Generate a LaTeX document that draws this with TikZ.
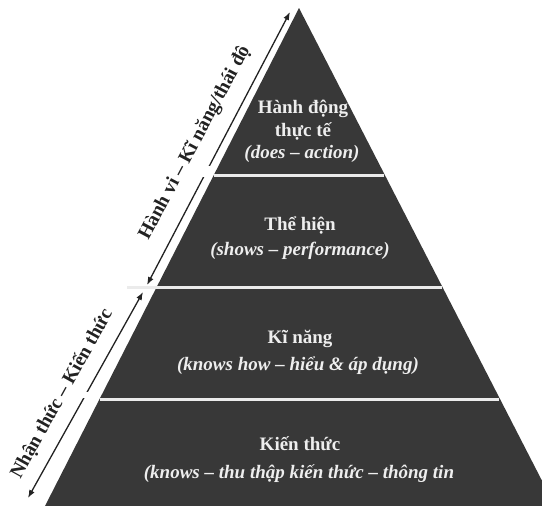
\documentclass[tikz,border=0pt]{standalone}
\usepackage{fontspec}
\setmainfont{Liberation Serif}
\usetikzlibrary{arrows.meta}
\definecolor{pyr}{HTML}{383838}
\definecolor{ink}{HTML}{222222}
\definecolor{lbl}{HTML}{EEEEEE}
\begin{document}
\begin{tikzpicture}[x=1pt,y=-1pt,
  lvl/.style={text=lbl, font=\fontsize{19}{22}\selectfont\bfseries, anchor=base, inner sep=0pt},
  sub/.style={text=lbl, font=\fontsize{19}{22}\selectfont\bfseries\itshape, anchor=base, inner sep=0pt},
  side/.style={text=ink, font=\fontsize{19.5}{23}\selectfont\bfseries, inner sep=0pt},
  dbl/.style={{Latex[length=8pt,width=6pt]}-{Latex[length=8pt,width=6pt]}, line width=1.3pt, draw=ink},
  sep/.style={draw=white!92!black, line width=3pt},
  gap/.style={draw=white, line width=#1}]
\useasboundingbox (0,0) rectangle (542,506);
% pyramid
\begin{scope}
\clip (0,0) rectangle (542,506);
\fill[pyr] (299,8) -- (555,506) -- (45,506) -- cycle;
\end{scope}
% arrows
\coordinate (u1) at (290,12);
\coordinate (u2) at (147,285);
\coordinate (l1) at (143,292);
\coordinate (l2) at (28,498);
\draw[dbl] (u1) -- (u2);
\draw[dbl] (l1) -- (l2);
% gaps in arrows
\draw[gap=11pt] (192,171) -- (211,171);
\draw[gap=6pt] (72,395) -- (100,395);
% separators
\coordinate (s1a) at (214,175); \coordinate (s1b) at (384,175);
\coordinate (s2a) at (127,287); \coordinate (s2b) at (442,287);
\coordinate (s3a) at (100,399); \coordinate (s3b) at (499,399);
\draw[sep] (s1a) -- (s1b);
\draw[sep] (s2a) -- (s2b);
\draw[sep] (s3a) -- (s3b);
% level texts
\node[lvl] (t1) at (303,113) {Hành động};
\node[lvl] (t2) at (303,136) {thực tế};
\node[sub] (t3) at (302,158) {(does – action)};
\node[lvl] (m1) at (300,230) {Thể hiện};
\node[sub] (m2) at (300,255) {(shows – performance)};
\node[lvl] (k1) at (300,343) {Kĩ năng};
\node[sub] (k2) at (298,370) {(knows how – hiểu \& áp dụng)};
\node[lvl] (b1) at (300,450) {Kiến thức};
\node[sub] (b2) at (299,478) {(knows – thu thập kiến thức – thông tin};
% side labels
\node[side, rotate=62] (su) at (195,143) {Hành vi – Kĩ năng/thái độ};
\node[side, rotate=61] (sl) at (62,394) {Nhận thức – Kiến thức};
\end{tikzpicture}
\end{document}
